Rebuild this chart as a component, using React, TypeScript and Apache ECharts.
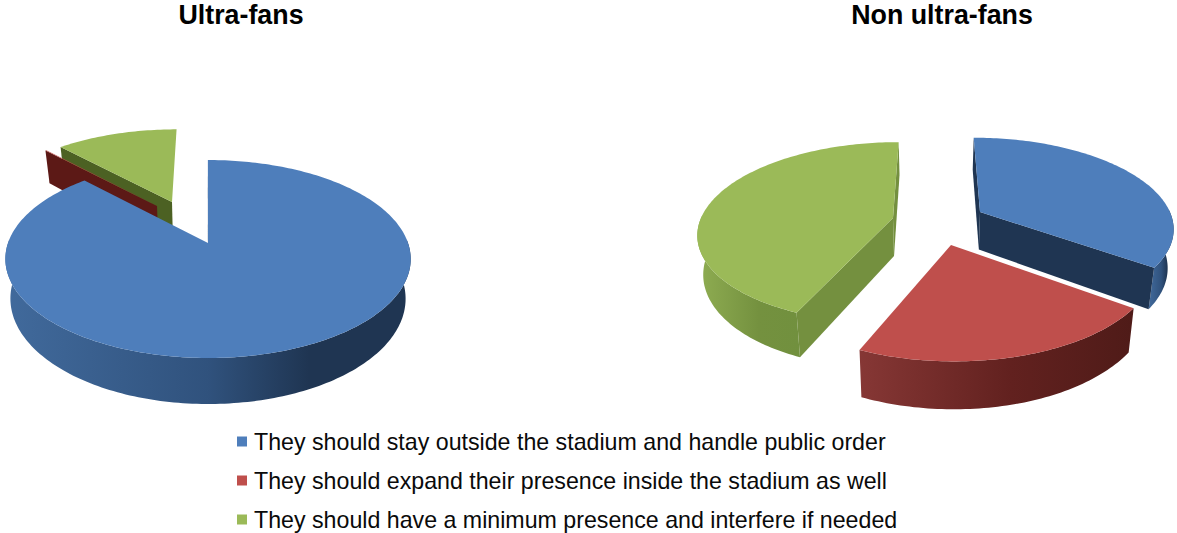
import React, { useEffect, useRef } from "react";
import * as echarts from "echarts";

const categories = [
  "They should stay outside the stadium and handle public order",
  "They should expand their presence inside the stadium as well",
  "They should have a minimum presence and interfere if needed",
];
const pieTitles = ["Ultra-fans", "Non ultra-fans"];
const ultraFans = [87.9, 0.1, 12];
const nonUltraFans = [35, 21.5, 43.5];

const topColors = ["#4E7EBB", "#BF4F4C", "#9BBA58"];
const wallStops: [number, string][][] = [
  [[0, "#416A9C"], [0.5, "#30527D"], [0.75, "#1F3552"], [1, "#1F3552"]],
  [[0, "#863735"], [0.55, "#62211F"], [1, "#4F1B18"]],
  [[0, "#8FAD52"], [0.6, "#74913F"], [1, "#71903E"]],
];

// Perspective camera of each pie and the pixel where each slice's tip lands.
const leftPie = {
  values: ultraFans,
  ox: 207, oy: 243, a: 200, k: 96.4, p: 0.1616, h: 38.6, s: 0.975,
  tips: [[208, 243], [157, 206], [172, 202]],
  faces: ["#1F3552", "#5C1916", "#4C6123"],
  order: [2, 1, 0],
  closingFace: false,
};
const rightPie = {
  values: nonUltraFans,
  ox: 934, oy: 218, a: 192, k: 88, p: 0.16, h: 38, s: 0.975,
  tips: [[980, 212], [951, 245], [893, 218]],
  faces: ["#1F3552", "#5C1916", "#74903F"],
  order: [2, 0, 1],
  closingFace: true,
};

type Pie = typeof leftPie;

function project(pie: Pie, u: number, v: number, bottom: boolean) {
  const d = 1 - pie.p * v;
  return bottom
    ? [pie.ox + (pie.a * pie.s * u) / d, pie.oy + (pie.k * v + pie.h) / d]
    : [pie.ox + (pie.a * u) / d, pie.oy + (pie.k * v) / d];
}

function sliceShapes(pie: Pie, index: number) {
  const total = pie.values.reduce((sum, x) => sum + x, 0);
  const before = pie.values.slice(0, index).reduce((sum, x) => sum + x, 0);
  const t0 = (before / total) * Math.PI * 2;
  const t1 = ((before + pie.values[index]) / total) * Math.PI * 2;

  const [tx, ty] = pie.tips[index];
  const dy = ty - pie.oy;
  const v0 = dy / (pie.k + pie.p * dy);
  const u0 = ((tx - pie.ox) * (1 - pie.p * v0)) / pie.a;

  const steps = Math.max(2, Math.ceil((t1 - t0) / 0.02));
  const topArc: number[][] = [];
  const wallTop: number[][] = [];
  const wallBottom: number[][] = [];
  for (let i = 0; i <= steps; i++) {
    const t = t0 + ((t1 - t0) * i) / steps;
    const u = u0 + Math.sin(t);
    const v = v0 - Math.cos(t);
    const point = project(pie, u, v, false);
    topArc.push(point);
    // Only the part of the rim that turns towards the viewer gets a wall.
    if (-Math.cos(t) > -0.05) {
      wallTop.push(point);
      wallBottom.push(project(pie, u, v, true));
    }
  }
  const rim = (t: number) => {
    const u = u0 + Math.sin(t);
    const v = v0 - Math.cos(t);
    return [project(pie, u, v, false), project(pie, u, v, true)];
  };
  const tipTop = project(pie, u0, v0, false);
  const tipBottom = project(pie, u0, v0, true);
  const faces: number[][][] = [];
  // A cut face shows when its outward normal points towards the viewer.
  if (Math.sin(t0) < 1e-6) {
    const [a, b] = rim(t0);
    faces.push([tipTop, a, b, tipBottom]);
  }
  if (Math.sin(t1) > 1e-6 || (pie.closingFace && index === pie.values.length - 1)) {
    const [a, b] = rim(t1);
    faces.push([tipTop, a, b, tipBottom]);
  }
  return { topArc, wallTop, wallBottom, tipTop, faces };
}

function sliceSeries(pie: Pie, index: number, z: number) {
  const { topArc, wallTop, wallBottom, tipTop, faces } = sliceShapes(pie, index);
  const poly = (points: number[][], fill: any) => ({
    type: "polygon",
    shape: { points },
    style: { fill },
  });
  const children: any[] = [];
  if (wallTop.length > 1) {
    children.push(
      poly(
        [...wallTop, ...[...wallBottom].reverse()],
        new echarts.graphic.LinearGradient(
          0, 0, 1, 0,
          wallStops[index].map(([offset, color]) => ({ offset, color }))
        )
      )
    );
  }
  faces.forEach((face) => children.push(poly(face, pie.faces[index])));
  children.push(poly([tipTop, ...topArc], topColors[index]));
  return {
    type: "custom",
    name: categories[index],
    coordinateSystem: "none",
    itemStyle: { color: topColors[index] },
    z,
    silent: true,
    data: [pie.values[index]],
    renderItem: () => ({ type: "group", children }),
  };
}

export default function App() {
  const ref = useRef<HTMLDivElement>(null);
  useEffect(() => {
    const chart = echarts.init(ref.current!, null, { renderer: "svg" });
    const series: any[] = [];
    [leftPie, rightPie].forEach((pie) => {
      pie.order.forEach((slice, rank) => {
        series.push(sliceSeries(pie, slice, 2 + rank));
      });
    });
    chart.setOption({
      animation: false,
      backgroundColor: "#FFFFFF",
      title: [
        { text: pieTitles[0], left: 236, top: -4, textAlign: "center" },
        { text: pieTitles[1], left: 937, top: -4, textAlign: "center" },
      ].map((t) => ({
        ...t,
        textStyle: { fontFamily: "Liberation Sans", fontWeight: "bold", fontSize: 26.8, color: "#000000" },
      })),
      legend: {
        orient: "vertical",
        left: 237 - 5,
        top: 425,
        height: 180,
        padding: 5,
        itemWidth: 10,
        itemHeight: 10,
        itemGap: 16,
        icon: "rect",
        selectedMode: false,
        data: categories,
        textStyle: {
          fontFamily: "Liberation Sans",
          fontSize: 23.2,
          color: "#0A0A0A",
          padding: [0, 0, 0, 2],
        },
      },
      series,
    });
    return () => chart.dispose();
  }, []);
  return (
    <div
      ref={ref}
      style={{ position: "fixed", left: 0, top: 0, width: 1177, height: 533 }}
    />
  );
}
